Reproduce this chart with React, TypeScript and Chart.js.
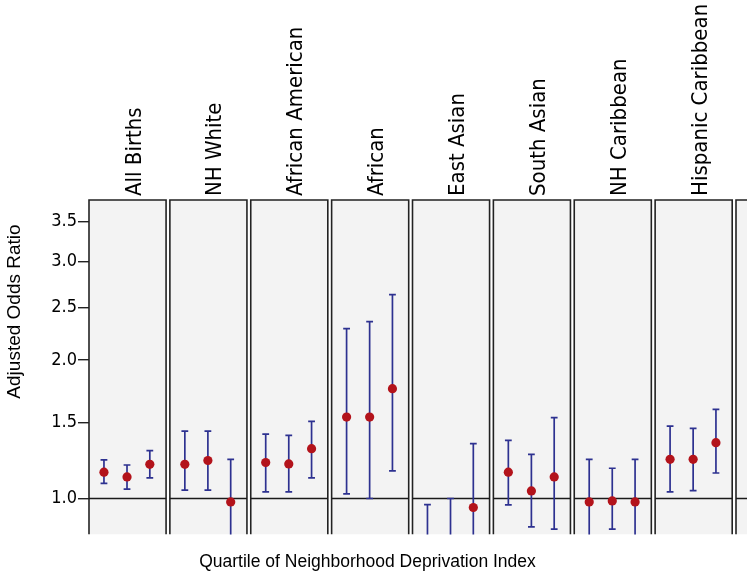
import React, { useEffect, useRef } from "react";
import { Chart, registerables, LinearScale } from "chart.js";

class Log1pScale extends LinearScale {
  static id = "log1p";
  static defaults = LinearScale.defaults;
  tf(v: number) {
    return Math.log(v + 1);
  }
  getPixelForValue(value: number) {
    const a = this.tf(this.min);
    const b = this.tf(this.max);
    return this.getPixelForDecimal((this.tf(value) - a) / (b - a));
  }
  getValueForPixel(pixel: number) {
    const a = this.tf(this.min);
    const b = this.tf(this.max);
    return Math.exp(a + this.getDecimalForPixel(pixel) * (b - a)) - 1;
  }
}

Chart.register(...registerables, Log1pScale);

const groups = [
  "All Births",
  "NH White",
  "African American",
  "African",
  "East Asian",
  "South Asian",
  "NH Caribbean",
  "Hispanic Caribbean",
];
const panelSlots = 9;
const quartileOffsets = [0.185, 0.47, 0.752];
const yTickValues = [1.0, 1.5, 2.0, 2.5, 3.0, 3.5];
const yMin = 0.8;
const yMax = 3.79;

const oddsRatio = [
  [1.16, 1.13, 1.21],
  [1.21, 1.235, 0.98],
  [1.222, 1.213, 1.314],
  [1.538, 1.538, 1.758],
  [0.6, 0.65, 0.948],
  [1.16, 1.045, 1.13],
  [0.98, 0.986, 0.98],
  [1.243, 1.243, 1.355],
];
const lowerCI = [
  [1.09, 1.055, 1.124],
  [1.049, 1.049, 0.72],
  [1.039, 1.039, 1.124],
  [1.027, 1.0, 1.168],
  [0.35, 0.4, 0.65],
  [0.963, 0.841, 0.829],
  [0.76, 0.829, 0.76],
  [1.039, 1.047, 1.155],
];
const upperCI = [
  [1.239, 1.206, 1.301],
  [1.436, 1.436, 1.243],
  [1.415, 1.406, 1.506],
  [2.288, 2.356, 2.632],
  [0.965, 1.0, 1.348],
  [1.371, 1.276, 1.534],
  [1.243, 1.185, 1.243],
  [1.472, 1.456, 1.596],
];

const PANEL_W = 0.953;

const panelsPlugin = {
  id: "panels",
  beforeDatasetsDraw(chart: any) {
    const { ctx, chartArea } = chart;
    const xs = chart.scales.x;
    const ys = chart.scales.y;
    ctx.save();
    ctx.beginPath();
    ctx.rect(chartArea.left - 2, chartArea.top - 2, chartArea.right - chartArea.left + 2, chartArea.bottom - chartArea.top + 2);
    ctx.clip();
    for (let i = 0; i < panelSlots; i++) {
      const x0 = xs.getPixelForValue(i);
      const x1 = xs.getPixelForValue(i + PANEL_W);
      const top = chartArea.top;
      const bottom = chartArea.bottom;
      ctx.fillStyle = "#f3f3f3";
      ctx.fillRect(x0, top, x1 - x0, bottom - top);
      ctx.strokeStyle = "#222";
      ctx.lineWidth = 1.6;
      ctx.beginPath();
      ctx.moveTo(x0, bottom);
      ctx.lineTo(x0, top);
      ctx.lineTo(x1, top);
      ctx.lineTo(x1, bottom);
      ctx.stroke();
      const yRef = ys.getPixelForValue(1.0);
      ctx.strokeStyle = "#1a1a1a";
      ctx.lineWidth = 1.5;
      ctx.beginPath();
      ctx.moveTo(x0, yRef);
      ctx.lineTo(x1, yRef);
      ctx.stroke();
    }
    ctx.restore();

    // error bars
    ctx.save();
    ctx.beginPath();
    ctx.rect(chartArea.left, chartArea.top, chartArea.right - chartArea.left, chartArea.bottom - chartArea.top);
    ctx.clip();
    ctx.strokeStyle = "#2d3190";
    ctx.lineWidth = 1.7;
    for (let g = 0; g < groups.length; g++) {
      for (let q = 0; q < quartileOffsets.length; q++) {
        const x = xs.getPixelForValue(g + quartileOffsets[q]);
        const yl = ys.getPixelForValue(lowerCI[g][q]);
        const yu = ys.getPixelForValue(upperCI[g][q]);
        ctx.beginPath();
        ctx.moveTo(x, yl);
        ctx.lineTo(x, yu);
        ctx.moveTo(x - 3.4, yl);
        ctx.lineTo(x + 3.4, yl);
        ctx.moveTo(x - 3.4, yu);
        ctx.lineTo(x + 3.4, yu);
        ctx.stroke();
      }
    }
    ctx.restore();
  },
  afterDraw(chart: any) {
    const { ctx } = chart;
    const xs = chart.scales.x;
    ctx.save();
    ctx.fillStyle = "#000";
    ctx.font = "22px 'DejaVu Sans Condensed', 'DejaVu Sans'";
    ctx.textAlign = "left";
    ctx.textBaseline = "alphabetic";
    for (let g = 0; g < groups.length; g++) {
      const cx = (xs.getPixelForValue(g) + xs.getPixelForValue(g + PANEL_W)) / 2;
      ctx.save();
      ctx.translate(cx + 13, 196);
      ctx.rotate(-Math.PI / 2);
      ctx.fillText(groups[g], 0, 0);
      ctx.restore();
    }
    // axis titles
    ctx.font = "19px 'Liberation Sans', Arial";
    ctx.textAlign = "center";
    ctx.textBaseline = "middle";
    ctx.save();
    ctx.translate(15, 311.5);
    ctx.rotate(-Math.PI / 2);
    ctx.fillText("Adjusted Odds Ratio", 0, 0);
    ctx.restore();
    ctx.font = "17.5px 'Liberation Sans', Arial";
    ctx.fillText("Quartile of Neighborhood Deprivation Index", 367.5, 562.5);
    ctx.restore();
  },
};

export default function App() {
  const ref = useRef<HTMLCanvasElement | null>(null);
  useEffect(() => {
    if (!ref.current) return;
    const points: { x: number; y: number }[] = [];
    groups.forEach((_, g) => {
      quartileOffsets.forEach((off, q) => {
        points.push({ x: g + off, y: oddsRatio[g][q] });
      });
    });
    const chart = new Chart(ref.current, {
      type: "scatter",
      data: {
        datasets: [
          {
            label: "Adjusted OR",
            data: points,
            pointRadius: 4.6,
            pointHoverRadius: 4.6,
            backgroundColor: "#b3131b",
            borderWidth: 0,
          },
        ],
      },
      options: {
        animation: false,
        responsive: true,
        maintainAspectRatio: false,
        layout: { padding: { top: 200, bottom: 44.5, right: 7, left: 0 } },
        plugins: { legend: { display: false }, tooltip: { enabled: false } },
        scales: {
          x: {
            type: "linear",
            min: 0,
            max: 8.136,
            display: false,
          },
          y: {
            type: "log1p" as any,
            min: yMin,
            max: yMax,
            bounds: "data",
            afterBuildTicks: (scale: any) => {
              scale.ticks = yTickValues.map((v) => ({ value: v }));
            },
            afterFit: (scale: any) => {
              scale.width = 89;
            },
            border: { display: false },
            grid: {
              drawOnChartArea: false,
              drawTicks: true,
              tickLength: 11,
              color: "#222",
              lineWidth: 1.4,
            },
            ticks: {
              padding: 1,
              color: "#000",
              font: { family: "'DejaVu Sans Condensed', 'DejaVu Sans'", size: 18 },
              callback: (v: any) => Number(v).toFixed(1),
            },
          },
        },
      },
      plugins: [panelsPlugin],
    });
    return () => chart.destroy();
  }, []);
  return (
    <div style={{ position: "fixed", left: 0, top: 0, width: 754, height: 579 }}>
      <canvas ref={ref} />
    </div>
  );
}
